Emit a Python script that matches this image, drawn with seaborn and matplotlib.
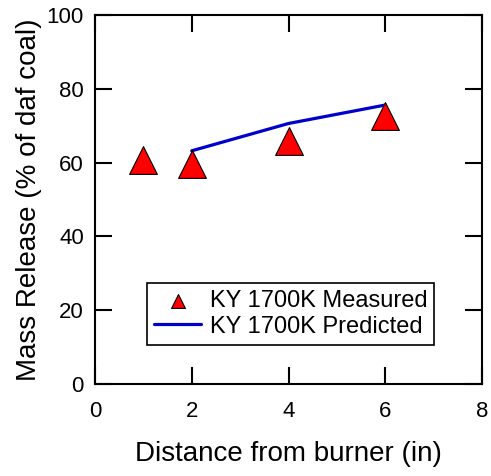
import matplotlib
matplotlib.use("Agg")
import matplotlib.pyplot as plt
import seaborn as sns
import pandas as pd

meas_x = [1, 2, 4, 6]
meas_y = [60.8, 59.7, 65.8, 72.5]
pred_x = [2, 4, 6]
pred_y = [63.2, 70.6, 75.6]
xticks = [0, 2, 4, 6, 8]
yticks = [0, 20, 40, 60, 80, 100]

sns.set_theme(style="white")
plt.rcParams['font.family'] = ['Liberation Sans', 'DejaVu Sans']
plt.rcParams['text.color'] = 'black'

fig = plt.figure(figsize=(4.91, 4.76), dpi=100)
ax = fig.add_axes([95/491, 1-384/476, (482-95)/491, (384-15)/476])

dm = pd.DataFrame({"x": meas_x, "y": meas_y})
dp = pd.DataFrame({"x": pred_x, "y": pred_y})

sns.lineplot(data=dp, x="x", y="y", ax=ax, color="#0000cc", linewidth=2.3,
             label="KY 1700K Predicted", zorder=2)
sns.scatterplot(data=dm, x="x", y="y", ax=ax, marker="^", s=400, color="red",
                edgecolor="black", linewidth=0.8, label="KY 1700K Measured", zorder=3)

ax.set_xlim(0, 8)
ax.set_ylim(0, 100)
ax.set_xticks(xticks)
ax.set_yticks(yticks)
ax.tick_params(direction="in", length=12.5, width=1.5, top=True, right=True,
               bottom=True, left=True, labelsize=16, colors="black")
ax.tick_params(axis="x", pad=12)
ax.tick_params(axis="y", pad=8)
for s in ax.spines.values():
    s.set_linewidth(1.5)
    s.set_color("black")
ax.set_xlabel("Distance from burner (in)", fontsize=20, labelpad=14, color="black")
ax.set_ylabel("Mass Release (% of daf coal)", fontsize=20, labelpad=3, color="black")

h, l = ax.get_legend_handles_labels()
order = [l.index("KY 1700K Measured"), l.index("KY 1700K Predicted")]
leg = ax.legend([h[i] for i in order], [l[i] for i in order], loc="upper left",
                bbox_to_anchor=((147-95)/387, (384-283)/369), borderaxespad=0,
                fontsize=17, frameon=True, fancybox=False, edgecolor="black",
                framealpha=1, markerscale=0.5, handlelength=2.0, borderpad=0.3,
                labelspacing=0.15, handletextpad=0.35)
leg.get_frame().set_linewidth(1.2)
for t in leg.get_texts():
    t.set_color("black")

fig.savefig("out.png", dpi=100)
